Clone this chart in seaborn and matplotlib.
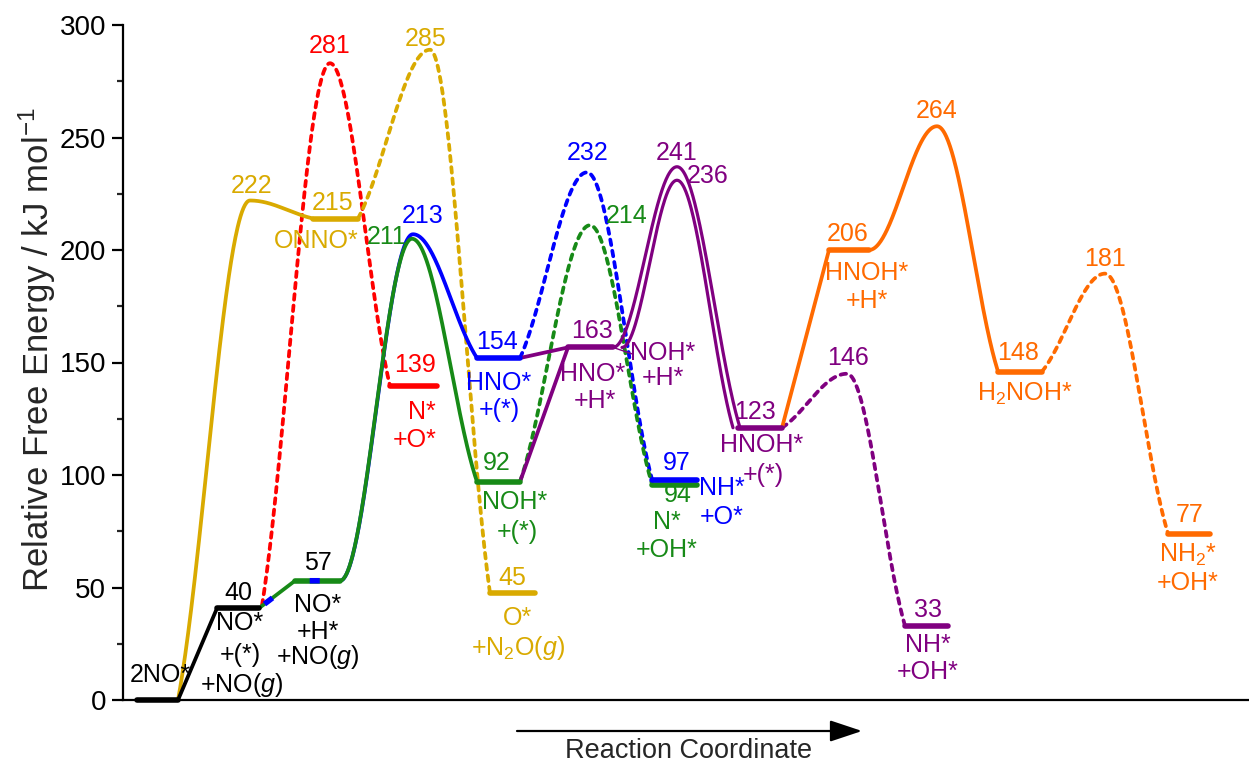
import numpy as np
import pandas as pd
import matplotlib
matplotlib.use("Agg")
import matplotlib.pyplot as plt
import seaborn as sns

sns.set_theme(style="ticks")
plt.rcParams["font.family"] = ["Liberation Sans", "DejaVu Sans"]
plt.rcParams["mathtext.fontset"] = "custom"
plt.rcParams["mathtext.rm"] = "Liberation Sans"
plt.rcParams["mathtext.it"] = "Liberation Sans:italic"
plt.rcParams["mathtext.default"] = "regular"
plt.rcParams["lines.scale_dashes"] = False

GOLD, RED, BLUE, GREEN = "#D9AA00", "#FF0000", "#0000FF", "#178A17"
PURPLE, ORANGE, BLACK = "#800080", "#FF6A00", "#000000"

# ---------------- data: energy levels (reaction coordinate start/end, energy) ----------
level_colors = [BLACK, BLACK, GREEN, GOLD, GOLD, RED, BLUE, GREEN, GREEN, BLUE,
                PURPLE, PURPLE, PURPLE, ORANGE, ORANGE, ORANGE]
level_x0 = [1.4, 9.4, 17.2, 19.0, 36.7, 26.7, 35.4, 35.4, 52.9, 52.9,
            44.5, 61.5, 78.2, 70.6, 87.5, 104.5]
level_x1 = [5.5, 13.6, 21.7, 23.5, 41.2, 31.4, 39.7, 39.7, 57.4, 57.4,
            49.0, 65.9, 82.5, 74.6, 91.9, 108.7]
level_E = [0, 40.8, 53, 214, 47.5, 139.5, 152, 97, 95.5, 98,
           156.7, 121, 33, 200, 146, 74]

# ---------------- data: connections (key points: start, [transition state], end) ------
link_colors = [GOLD, RED, GOLD, BLACK, GREEN, BLUE, GREEN, BLUE, GREEN,
               PURPLE, PURPLE, PURPLE, PURPLE, PURPLE, ORANGE, ORANGE, ORANGE]
link_styles = ["-", "--", "--", "-", "-", "-", "-", "--", "--",
               "-", "-", "-", "-", "--", "-", "-", "--"]
link_shapes = ["ease", "ease", "ease", "line", "line", "smooth", "smooth", "ease", "ease",
               "line", "line", "smooth", "smooth", "ease", "line", "smooth", "ease"]
link_x = [[5.5, 12.7, 19.0], [13.9, 20.7, 26.7], [23.5, 30.7, 36.7], [5.5, 9.4],
          [13.6, 17.2], [21.7, 29.0, 35.4], [21.7, 28.9, 35.4], [39.7, 46.4, 52.9],
          [39.7, 46.7, 52.9], [39.7, 44.5], [39.7, 44.5], [49.0, 55.4, 61.7],
          [49.9, 55.4, 61.0], [65.9, 72.4, 78.2], [65.9, 70.6], [74.6, 81.4, 87.5],
          [91.9, 98.2, 104.5]]
link_E = [[0, 222, 214], [42, 283, 139.5], [214, 289, 47.5], [0, 40.8],
          [40.8, 53], [53, 207, 152], [53, 205, 97], [152, 234.5, 98],
          [97, 211, 96], [97, 156.7], [152, 156.7], [156.7, 237, 121],
          [156.7, 231, 121], [121, 145, 33], [121, 200], [200, 255, 146],
          [146, 189.5, 74]]

# ---------------- data: labels (text, x, E, colour) ----------------------------------
label_text = ["281", "285", "222", "215", "ONNO*", "211", "213", "139", "N*", "+O*",
              "154", "HNO*", "+(*)", "232", "214", "163", "HNO*", "+H*", "NOH*", "+H*",
              "241", "236", "92", "NOH*", "+(*)", "45", "O*", r"+N$_2$O($\mathit{g}$)",
              "97", "94", "N*", "+OH*", "NH*", "+O*", "123", "HNOH*", "+(*)",
              "146", "33", "NH*", "+OH*", "206", "HNOH*", "+H*", "264", "148",
              r"H$_2$NOH*", "181", "77", r"NH$_2$*", "+OH*",
              "40", "2NO*", "NO*", "+(*)", r"+NO($\mathit{g}$)",
              "57", "NO*", "+H*", r"+NO($\mathit{g}$)"]
label_x = [20.7, 30.3, 12.9, 21.0, 19.3, 26.4, 30.0, 29.2, 29.9, 29.2,
           37.4, 37.6, 37.6, 46.5, 50.4, 46.9, 47.0, 47.2, 54.0, 54.0,
           55.4, 58.5, 37.4, 39.2, 39.4, 38.9, 39.4, 39.5,
           55.4, 55.5, 54.4, 54.4, 59.9, 59.9, 63.2, 63.9, 64.0,
           72.5, 80.5, 80.5, 80.5, 72.5, 74.4, 74.4, 81.4, 89.5,
           90.2, 98.2, 106.7, 106.5, 106.5,
           11.5, 3.7, 11.7, 11.7, 11.9,
           19.5, 19.5, 19.5, 19.5]
label_E = [290.7, 293.8, 228.6, 221.0, 204.1, 205.9, 215.2, 149.1, 127.8, 115.4,
           158.9, 141.1, 128.7, 243.2, 215.2, 164.2, 145.1, 133.1, 154.4, 142.9,
           243.2, 233.0, 105.2, 87.9, 74.6, 54.1, 36.4, 23.1,
           105.2, 91.0, 79.0, 66.6, 94.1, 81.2, 127.8, 113.2, 99.9,
           152.2, 39.9, 24.4, 12.4, 207.3, 189.9, 177.5, 261.8, 154.0,
           136.2, 196.2, 82.1, 64.4, 51.9,
           47.5, 11.1, 34.2, 20.0, 6.7,
           60.8, 42.2, 30.2, 19.1]
label_colors = [RED, GOLD, GOLD, GOLD, GOLD, GREEN, BLUE, RED, RED, RED,
                BLUE, BLUE, BLUE, BLUE, GREEN, PURPLE, PURPLE, PURPLE, PURPLE, PURPLE,
                PURPLE, PURPLE, GREEN, GREEN, GREEN, GOLD, GOLD, GOLD,
                BLUE, GREEN, GREEN, GREEN, BLUE, BLUE, PURPLE, PURPLE, PURPLE,
                PURPLE, PURPLE, PURPLE, PURPLE, ORANGE, ORANGE, ORANGE, ORANGE, ORANGE,
                ORANGE, ORANGE, ORANGE, ORANGE, ORANGE,
                BLACK, BLACK, BLACK, BLACK, BLACK,
                BLACK, BLACK, BLACK, BLACK]

yticks = [0, 50, 100, 150, 200, 250, 300]


def rise(t):
    # leaves a level at an angle, rounds off at the transition state
    return 0.5 * np.sin(np.pi / 2 * t) + 0.5 * (1 - np.cos(np.pi * t)) / 2


def scurve(t):
    return (1 - np.cos(np.pi * t)) / 2


def curve(xk, yk, shape):
    xk = np.asarray(xk, float)
    yk = np.asarray(yk, float)
    if shape == "line":
        return xk, yk
    xs, ys = [], []
    n = len(xk) - 1
    for i in range(n):
        t = np.linspace(0, 1, 100)
        if i > 0:
            t = t[1:]
        if i == 0:
            f = scurve(t) if shape == "smooth" else rise(t)
        else:
            f = 1 - rise(1 - t)
        xs.append(xk[i] + (xk[i + 1] - xk[i]) * t)
        ys.append(yk[i] + (yk[i + 1] - yk[i]) * f)
    return np.concatenate(xs), np.concatenate(ys)


fig = plt.figure(figsize=(12.49, 7.67), dpi=100)
ax = fig.add_axes([123 / 1249, 1 - 700 / 767, 1 - 123 / 1249, 675 / 767])


def draw(x, y, color, lw, style="-", z=3, cap="round"):
    df = pd.DataFrame({"x": x, "y": y})
    n0 = len(ax.lines)
    sns.lineplot(data=df, x="x", y="y", sort=False, estimator=None, color=color,
                 lw=lw, ax=ax, legend=False)
    ln = ax.lines[n0]
    ln.set_clip_on(False)
    ln.set_zorder(z)
    if style == "--":
        ln.set_linestyle((0, (4.0, 4.2)))
        ln.set_dash_capstyle("round")
    elif isinstance(style, tuple):
        ln.set_linestyle(style)
        ln.set_dash_capstyle("butt")
    else:
        ln.set_solid_capstyle(cap)
    return ln


for i, (c, s, sh, xk, ek) in enumerate(zip(link_colors, link_styles, link_shapes,
                                            link_x, link_E)):
    x, y = curve(xk, ek, sh)
    lw = 2.3 if i in (11, 12) else 2.7
    draw(x, y, c, lw, s, z=2 if s == "--" else 3)

# thin connector from HNO*+H* level to the NOH*+H* state
draw([level_x1[10], level_x1[10] + 2.0], [level_E[10], level_E[10] - 3], PURPLE, 1.0, z=3)

for c, x0, x1, e in zip(level_colors, level_x0, level_x1, level_E):
    draw([x0, x1], [e, e], c, 4.0, z=4)

# blue dashes on the shared NO*+H* path (green/blue alternating)
draw([link_x[4][0], link_x[4][1], level_x1[2]], [link_E[4][0], link_E[4][1], level_E[2]],
     BLUE, 4.0, style=(33.2, (7.2, 31.0)), z=5)

for t, x, e, c in zip(label_text, label_x, label_E, label_colors):
    ax.text(x, e, t, color=c, fontsize=18, ha="center", va="center", zorder=6)

ax.set_xlim(0, 112.6)
ax.set_ylim(0, 300)
ax.set_yticks(yticks)
ax.set_yticks(np.arange(25, 300, 50), minor=True)
ax.set_xticks([])
ax.set_xlabel("")
ax.set_ylabel("")
ax.tick_params(axis="y", which="major", length=8, width=1.6, direction="out",
               labelsize=20, pad=4, colors="black")
ax.tick_params(axis="y", which="minor", length=4.5, width=1.6, direction="out")
for side in ["top", "right"]:
    ax.spines[side].set_visible(False)
for side in ["left", "bottom"]:
    ax.spines[side].set_linewidth(1.6)
    ax.spines[side].set_color("black")
ax.patch.set_alpha(0)

fig.text(37 / 1249, 1 - 350 / 767, r"Relative Free Energy / kJ mol$^{-1}$",
         rotation=90, ha="center", va="center", fontsize=25)

ax.annotate("", xy=(862 / 1249, 1 - 731 / 767), xytext=(517 / 1249, 1 - 731 / 767),
            xycoords="figure fraction", textcoords="figure fraction",
            arrowprops=dict(arrowstyle="-|>,head_length=0.9,head_width=0.3", lw=1.6,
                            color="black", mutation_scale=22, shrinkA=0, shrinkB=0))
fig.text(689 / 1249, 1 - 751 / 767, "Reaction Coordinate", ha="center", va="center",
         fontsize=19.5)

fig.savefig("out.png", dpi=100)
